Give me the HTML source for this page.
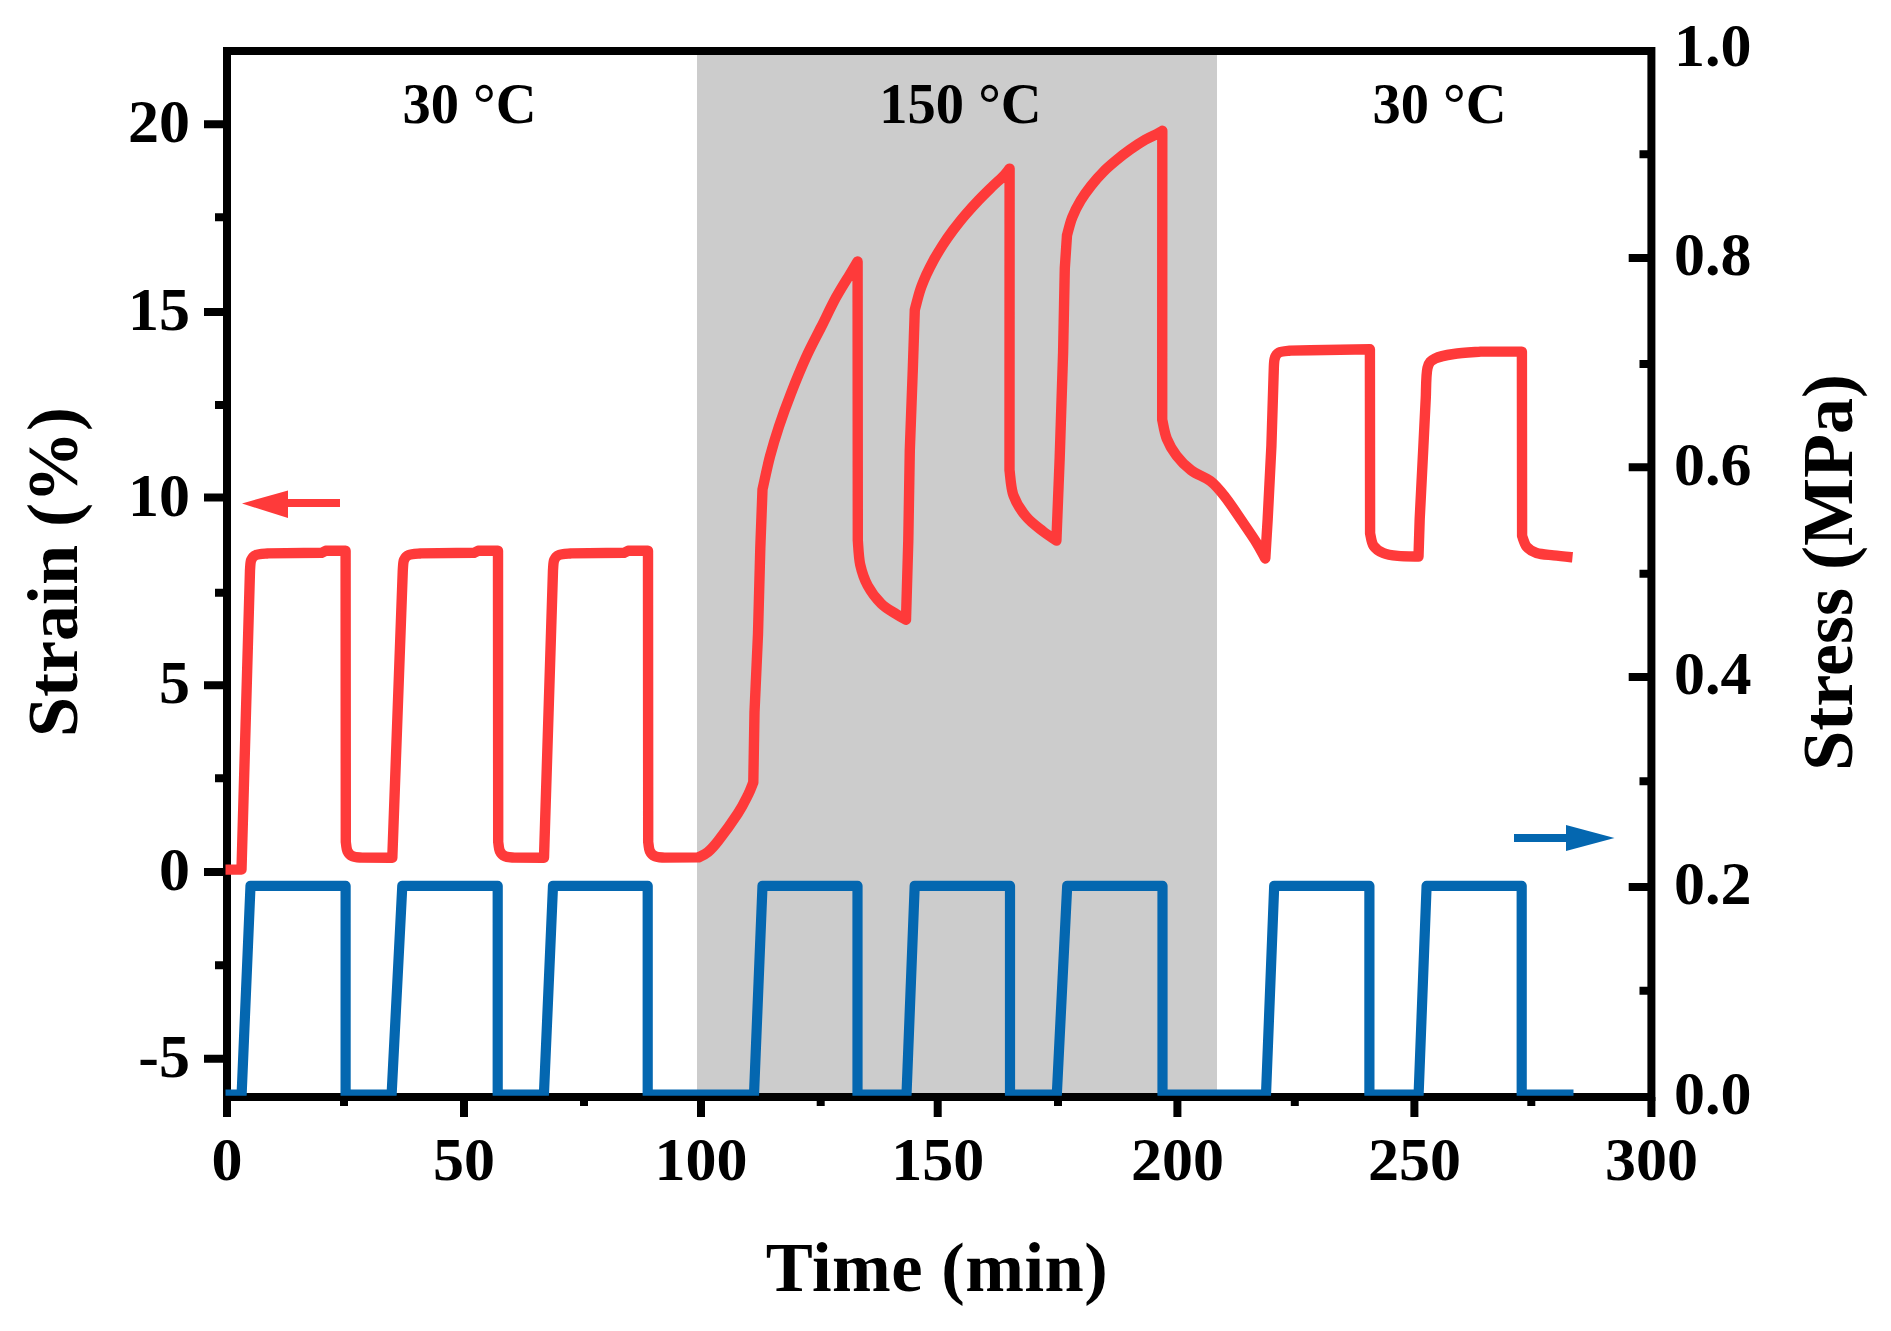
<!DOCTYPE html>
<html><head><meta charset="utf-8"><title>Strain and stress versus time</title>
<style>
html,body{margin:0;padding:0;background:#fff;}
body{width:1891px;height:1331px;overflow:hidden;}
svg{display:block;}
text{font-family:"Liberation Serif",serif;font-weight:bold;fill:#000;}
.tk{font-size:62px;}
.tp{font-size:56.5px;}
.ti{font-size:70.5px;letter-spacing:0.5px;}
.tr{font-size:72px;}
</style></head><body>
<svg width="1891" height="1331" viewBox="0 0 1891 1331">
<rect width="1891" height="1331" fill="#fff"/>
<rect x="697" y="51" width="520" height="1046" fill="#cccccc"/>
<rect x="227" y="51" width="1424.4" height="1046" fill="none" stroke="#000" stroke-width="8"/>
<path d="M227,1097 V1117 M464,1097 V1117 M701,1097 V1117 M937.7,1097 V1117 M1177.4,1097 V1117 M1414.4,1097 V1117 M1651.4,1097 V1117 M344,1097 V1106 M584,1097 V1106 M820.7,1097 V1106 M1058,1097 V1106 M1294.8,1097 V1106 M1531.3,1097 V1106 M204,124.3 H227 M204,312 H227 M204,497.5 H227 M204,685.3 H227 M204,871.9 H227 M204,1058.8 H227 M215,217.3 H227 M215,405 H227 M215,592.8 H227 M215,778.2 H227 M215,965.3 H227 M1628.7,887.1 H1651 M1628.7,677 H1651 M1628.7,467.3 H1651 M1628.7,258 H1651 M1639.5,154.3 H1651 M1639.5,364 H1651 M1639.5,573.8 H1651 M1639.5,781.2 H1651 M1639.5,990.8 H1651" stroke="#000" stroke-width="8" fill="none"/>
<clipPath id="cp"><rect x="225.5" y="40" width="1430" height="1055.7"/></clipPath><g clip-path="url(#cp)">
<path d="M224.0,1094.7 L241.6,1094.7 L250.5,885.8 L345.6,885.8 L345.6,1094.7 L391.6,1094.7 L402.3,885.8 L497.7,885.8 L497.7,1094.7 L543.9,1094.7 L553.0,885.8 L647.7,885.8 L647.7,1094.7 L754.0,1094.7 L762.5,885.8 L857.5,885.8 L857.5,1094.7 L906.5,1094.7 L914.7,885.8 L1010.0,885.8 L1010.0,1094.7 L1056.8,1094.7 L1067.2,885.8 L1162.5,885.8 L1162.5,1094.7 L1266.0,1094.7 L1274.2,885.8 L1369.4,885.8 L1369.4,1094.7 L1418.6,1094.7 L1426.6,885.8 L1521.7,885.8 L1521.7,1094.7 L1573.5,1094.7" fill="none" stroke="#0467b0" stroke-width="10.2" stroke-linejoin="round"/>
<path d="M225,869.6 L240.8,869.6 L241.5,869.6 L250.0,570.0 C250.2,568.3 250.2,562.5 251.2,560.0 C252.2,557.5 253.2,556.1 256.0,555.0 C258.8,553.9 266.0,553.7 268.0,553.4 L321.6,552.8 L325.6,550.8 L345.6,550.8 L345.8,842.0 C346.1,843.5 346.3,848.6 347.4,851.0 C348.5,853.4 350.2,855.2 352.6,856.3 C355.0,857.4 360.1,857.4 361.6,857.6 L389.6,857.7 L392.3,857.7 L402.8,570.0 C403.0,568.3 403.0,562.5 404.0,560.0 C405.0,557.5 406.0,556.1 408.8,555.0 C411.6,553.9 418.8,553.7 420.8,553.4 L474.0,552.8 L478.0,550.8 L498.0,550.8 L498.2,842.0 C498.5,843.5 498.7,848.6 499.8,851.0 C500.9,853.4 502.6,855.2 505.0,856.3 C507.4,857.4 512.5,857.4 514.0,857.6 L542.0,857.7 L544.0,857.7 L553.0,570.0 C553.2,568.3 553.2,562.5 554.2,560.0 C555.2,557.5 556.2,556.1 559.0,555.0 C561.8,553.9 569.0,553.7 571.0,553.4 L624.0,552.8 L628.0,550.8 L648.0,550.8 L648.2,842.0 C648.5,843.5 648.7,848.6 649.8,851.0 C650.9,853.4 652.6,855.2 655.0,856.3 C657.4,857.4 662.5,857.4 664.0,857.6 L698.6,857.4 C700.2,856.5 704.8,854.7 708.0,852.0 C711.2,849.3 713.1,847.4 718.1,841.0 C723.1,834.6 732.7,821.4 737.7,813.7 C742.7,806.0 745.4,800.2 748.0,795.0 C750.6,789.8 752.4,784.5 753.3,782.4 L754.5,712.0 L758.0,634.0 L760.3,548.0 L762.5,489.4 C763.8,483.9 767.2,466.9 770.0,456.4 C772.8,445.9 775.5,436.8 779.0,426.3 C782.5,415.8 786.5,404.8 791.0,393.3 C795.5,381.8 801.1,368.2 806.1,357.2 C811.1,346.2 816.1,337.2 821.1,327.2 C826.1,317.2 831.4,305.9 836.2,297.1 C841.0,288.3 846.1,280.5 849.7,274.6 C853.3,268.7 856.3,263.7 857.6,261.5 L857.8,540.5 C858.2,544.5 858.6,557.1 860.2,564.6 C861.9,572.1 864.2,579.1 867.7,585.6 C871.2,592.1 876.4,598.8 881.2,603.6 C886.0,608.4 892.2,611.5 896.3,614.2 C900.4,616.9 904.4,618.9 906.0,619.8 L908.3,540.5 L909.8,450.4 L912.8,369.2 L914.8,309.8 C915.7,306.6 918.2,296.1 920.1,290.3 C922.0,284.5 923.9,280.2 926.1,275.2 C928.4,270.2 930.9,265.2 933.6,260.2 C936.4,255.2 939.4,250.2 942.6,245.2 C945.9,240.2 949.4,235.2 953.1,230.2 C956.9,225.2 960.8,220.1 965.1,215.1 C969.4,210.1 974.2,204.8 978.7,200.1 C983.2,195.3 988.0,190.7 992.2,186.6 C996.5,182.5 1001.3,178.3 1004.2,175.3 C1007.1,172.3 1008.7,169.7 1009.6,168.6 L1009.5,470.2 C1010.2,474.4 1010.7,487.8 1013.5,495.5 C1016.3,503.2 1021.2,510.6 1026.1,516.5 C1031.0,522.5 1037.9,527.2 1042.9,531.2 C1048.0,535.2 1054.2,539.0 1056.4,540.6 L1059.7,457.6 L1063.1,352.4 L1064.8,268.3 L1067.0,235.2 C1067.9,232.2 1070.0,222.9 1072.3,217.2 C1074.6,211.4 1077.5,205.9 1080.6,200.7 C1083.7,195.4 1087.3,190.5 1091.1,185.7 C1094.8,180.9 1098.8,176.4 1103.1,172.1 C1107.3,167.8 1112.1,163.8 1116.6,160.1 C1121.1,156.3 1125.4,153.0 1130.2,149.6 C1135.0,146.2 1140.7,142.4 1145.2,139.8 C1149.7,137.2 1154.4,135.3 1157.2,133.8 C1160.0,132.3 1161.5,131.3 1162.3,130.8 L1162.2,419.7 C1163.0,422.9 1164.4,432.7 1166.8,438.7 C1169.2,444.7 1172.5,450.4 1176.5,455.7 C1180.5,461.0 1185.4,466.1 1191.1,470.3 C1196.8,474.6 1204.8,476.8 1210.5,481.2 C1216.2,485.6 1219.8,490.3 1225.1,497.0 C1230.4,503.7 1236.9,513.7 1242.2,521.4 C1247.5,529.1 1253.0,537.0 1256.8,543.2 C1260.6,549.4 1263.9,556.0 1265.3,558.5 L1267.7,518.9 L1271.4,446.0 L1273.6,375.0 C1273.8,372.3 1273.7,362.8 1274.6,359.0 C1275.5,355.2 1276.4,353.9 1279.0,352.5 C1281.6,351.1 1288.2,350.9 1290.0,350.6 L1310.3,350.2 L1369.9,349.3 L1370.1,533.5 C1370.7,535.5 1371.3,542.5 1373.5,545.7 C1375.7,549.0 1379.2,551.3 1383.2,553.0 C1387.2,554.7 1391.9,555.3 1397.8,555.9 C1403.7,556.5 1415.0,556.5 1418.5,556.6 L1419.7,518.9 L1423.4,446.0 L1425.8,397.3 C1426.1,392.4 1425.9,374.5 1427.5,368.0 C1429.1,361.5 1431.1,360.7 1435.5,358.4 C1439.9,356.1 1446.3,355.1 1453.8,354.0 C1461.3,352.9 1476.0,352.0 1480.5,351.6 L1521.9,351.6 L1522.1,536.0 C1522.9,537.8 1524.4,544.1 1526.8,546.9 C1529.2,549.7 1532.0,551.6 1536.5,553.0 C1541.0,554.4 1547.5,554.7 1553.5,555.4 C1559.5,556.1 1569.3,557.0 1572.5,557.3" fill="none" stroke="#fe3a3a" stroke-width="10.4" stroke-linejoin="round" stroke-linecap="butt"/>
</g>
<path d="M288,503 H340" stroke="#fe3a3a" stroke-width="8" fill="none"/><path d="M242,503.5 L288,490.5 L288,518 Z" fill="#fe3a3a"/>
<path d="M1514,838 H1567" stroke="#0467b0" stroke-width="8" fill="none"/><path d="M1614.5,838 L1566,825 L1566,851 Z" fill="#0467b0"/>
<text x="227" y="1179.5" text-anchor="middle" class="tk">0</text>
<text x="464" y="1179.5" text-anchor="middle" class="tk">50</text>
<text x="701" y="1179.5" text-anchor="middle" class="tk">100</text>
<text x="937.7" y="1179.5" text-anchor="middle" class="tk">150</text>
<text x="1177.4" y="1179.5" text-anchor="middle" class="tk">200</text>
<text x="1414.4" y="1179.5" text-anchor="middle" class="tk">250</text>
<text x="1651.4" y="1179.5" text-anchor="middle" class="tk">300</text>
<text x="190" y="142.3" text-anchor="end" class="tk">20</text>
<text x="190" y="330" text-anchor="end" class="tk">15</text>
<text x="190" y="515.5" text-anchor="end" class="tk">10</text>
<text x="190" y="703.3" text-anchor="end" class="tk">5</text>
<text x="190" y="889.9" text-anchor="end" class="tk">0</text>
<text x="190" y="1076.8" text-anchor="end" class="tk">-5</text>
<text x="1674" y="1114.3" text-anchor="start" class="tk">0.0</text>
<text x="1674" y="903.9" text-anchor="start" class="tk">0.2</text>
<text x="1674" y="694.3" text-anchor="start" class="tk">0.4</text>
<text x="1674" y="484.8" text-anchor="start" class="tk">0.6</text>
<text x="1674" y="275.3" text-anchor="start" class="tk">0.8</text>
<text x="1674" y="66.3" text-anchor="start" class="tk">1.0</text>
<text x="469.5" y="123" text-anchor="middle" class="tp">30 °C</text>
<text x="960.5" y="123" text-anchor="middle" class="tp">150 °C</text>
<text x="1439.5" y="123" text-anchor="middle" class="tp">30 °C</text>
<text x="937" y="1291" text-anchor="middle" class="ti">Time (min)</text>
<text transform="translate(76.5,572) rotate(-90)" text-anchor="middle" class="tr">Strain (%)</text>
<text transform="translate(1852,572.4) rotate(-90)" text-anchor="middle" class="tr">Stress (MPa)</text>
</svg>
</body></html>
